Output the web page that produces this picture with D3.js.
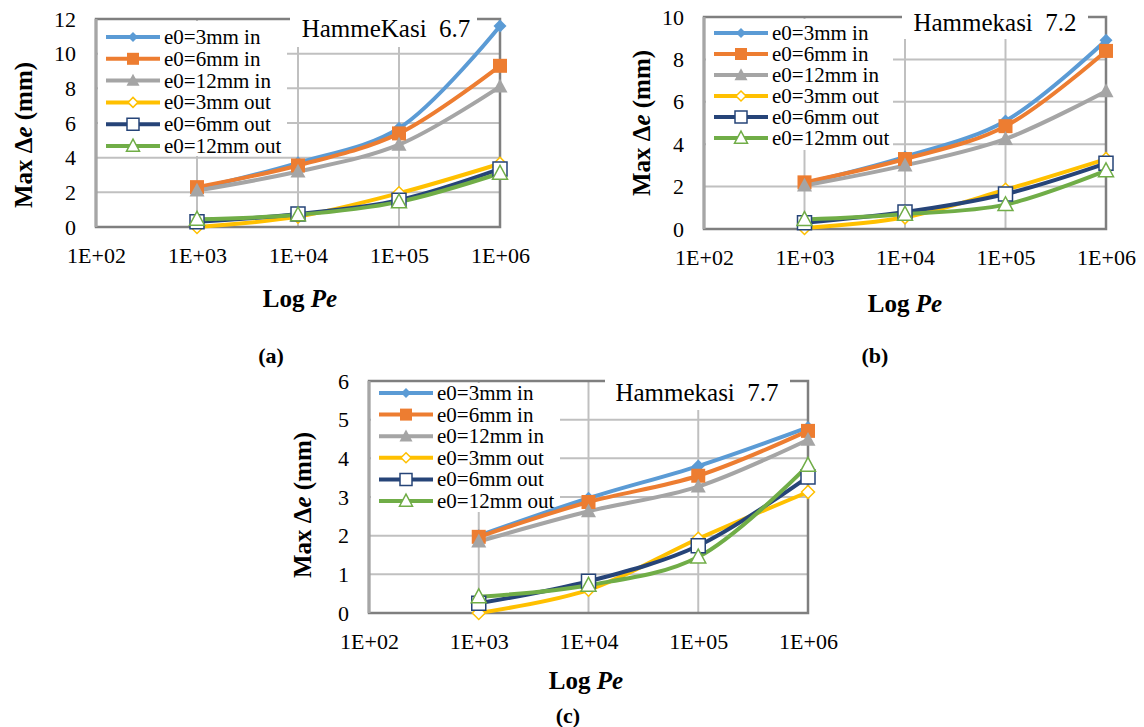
<!DOCTYPE html>
<html>
<head>
<meta charset="utf-8">
<script src="https://cdn.jsdelivr.net/npm/d3@7"></script>
<style>
  body { margin: 0; background: #fff; }
  svg, svg text { font-family: "Liberation Serif", "Tinos", "Times New Roman", "Nimbus Roman", "DejaVu Serif", serif !important; }
</style>
</head>
<body>
<svg width="1144" height="727"></svg>
<script>
// Peclet numbers (x) and axis ticks
var pe = [1e3, 1e4, 1e5, 1e6];
var peTicks = [1e2, 1e3, 1e4, 1e5, 1e6];

var names = ["e0=3mm in", "e0=6mm in", "e0=12mm in", "e0=3mm out", "e0=6mm out", "e0=12mm out"];
var colors = ["#5b9bd5", "#ed7d31", "#a5a5a5", "#ffc000", "#264478", "#70ad47"];
var shapes = ["diamond", "square", "triangle", "diamond", "square", "triangle"];
var hollow = [false, false, false, true, true, true];

// Max delta e (mm), one row per series
var hk67 = [
  [2.2, 3.7, 5.7, 11.6],
  [2.3, 3.55, 5.4, 9.3],
  [2.1, 3.2, 4.75, 8.1],
  [0.0, 0.6, 1.95, 3.65],
  [0.3, 0.75, 1.55, 3.35],
  [0.45, 0.7, 1.45, 3.1]
];
var hk72 = [
  [2.15, 3.4, 5.1, 8.9],
  [2.2, 3.3, 4.85, 8.4],
  [2.05, 3.0, 4.25, 6.5],
  [0.05, 0.55, 1.85, 3.3],
  [0.3, 0.8, 1.65, 3.1],
  [0.45, 0.7, 1.15, 2.75]
];
var hk77 = [
  [2.0, 2.97, 3.8, 4.8],
  [1.97, 2.87, 3.55, 4.71],
  [1.85, 2.63, 3.27, 4.48],
  [0.0, 0.6, 1.92, 3.13],
  [0.25, 0.82, 1.74, 3.52],
  [0.42, 0.72, 1.45, 3.82]
];

var ticks67 = [0, 2, 4, 6, 8, 10, 12];
var ticks72 = [0, 2, 4, 6, 8, 10];
var ticks77 = [0, 1, 2, 3, 4, 5, 6];

var panels = [
  { data: hk67, yTicks: ticks67, title: "HammeKasi\u00a0\u00a06.7", label: "(a)",
    left: 96, right: 500, top: 19, bottom: 227,
    legend: { x: 98, y: 21, w: 189, h: 135, row0: 37, dy: 21.8 },
    tbox: { x: 290, y: 8, w: 187, h: 39, cx: 386, cy: 28 },
    yt: [23, 135], xt: [300, 298], lab: [271, 355] },
  { data: hk72, yTicks: ticks72, title: "Hammekasi\u00a0\u00a07.2", label: "(b)",
    left: 704, right: 1106, top: 17, bottom: 229,
    legend: { x: 706, y: 19, w: 187, h: 131, row0: 33, dy: 21 },
    tbox: { x: 902, y: 5, w: 186, h: 34, cx: 995, cy: 22 },
    yt: [641, 123], xt: [905, 303], lab: [875, 355] },
  { data: hk77, yTicks: ticks77, title: "Hammekasi\u00a0\u00a07.7", label: "(c)",
    left: 369, right: 808, top: 381, bottom: 613,
    legend: { x: 371, y: 383, w: 189, h: 129, row0: 393, dy: 21.6 },
    tbox: { x: 605, y: 370, w: 185, h: 40, cx: 697, cy: 392 },
    yt: [302, 505], xt: [586, 680], lab: [568, 715] }
];

function marker(shape, r) {
  if (shape == "diamond") return "M0," + (-r) + "L" + r + ",0L0," + r + "L" + (-r) + ",0Z";
  if (shape == "square") return "M" + (-r) + "," + (-r) + "h" + 2 * r + "v" + 2 * r + "h" + (-2 * r) + "Z";
  return "M0," + (-r * 1.05) + "L" + r + "," + (r * 0.8) + "L" + (-r) + "," + (r * 0.8) + "Z";
}
var plotR = { diamond: 6.5, square: 7, triangle: 7.5 };
var legR = { diamond: 5, square: 6, triangle: 6.5 };

var svg = d3.select("svg");
var fmt = function(d) { return "1E+0" + Math.round(Math.log10(d)); };

panels.forEach(function(p) {
  var g = svg.append("g");
  var x = d3.scaleLog().domain([1e2, 1e6]).range([p.left, p.right]);
  var y = d3.scaleLinear().domain([0, d3.max(p.yTicks)]).range([p.bottom, p.top]);

  // gridlines
  g.append("g").selectAll("line").data(p.yTicks.slice(1)).join("line")
    .attr("x1", p.left).attr("x2", p.right)
    .attr("y1", function(d) { return y(d); }).attr("y2", function(d) { return y(d); })
    .attr("stroke", "#c0c0c0").attr("stroke-width", 2);
  g.append("g").selectAll("line").data(peTicks.slice(1)).join("line")
    .attr("x1", function(d) { return x(d); }).attr("x2", function(d) { return x(d); })
    .attr("y1", p.top).attr("y2", p.bottom)
    .attr("stroke", "#c0c0c0").attr("stroke-width", 2);

  // plot border
  g.append("rect").attr("x", p.left).attr("y", p.top)
    .attr("width", p.right - p.left).attr("height", p.bottom - p.top)
    .attr("fill", "none").attr("stroke", "#7f7f7f").attr("stroke-width", 2.5);
  g.append("line").attr("x1", p.left).attr("x2", p.left).attr("y1", p.top).attr("y2", p.bottom)
    .attr("stroke", "#a6a6a6").attr("stroke-width", 3);

  // axes
  var xa = g.append("g").attr("transform", "translate(0," + p.bottom + ")")
    .call(d3.axisBottom(x).tickValues(peTicks).tickFormat(fmt).tickSize(0).tickPadding(20));
  var ya = g.append("g").attr("transform", "translate(" + p.left + ",0)")
    .call(d3.axisLeft(y).tickValues(p.yTicks).tickFormat(d3.format("d")).tickSize(0).tickPadding(20));
  [xa, ya].forEach(function(a) {
    a.attr("font-family", null);
    a.select(".domain").remove();
    a.selectAll("text").attr("font-size", 22).attr("fill", "#000");
  });

  // legend
  var lg = p.legend;
  g.append("rect").attr("x", lg.x).attr("y", lg.y).attr("width", lg.w).attr("height", lg.h).attr("fill", "#fff");
  names.forEach(function(n, i) {
    var ry = lg.row0 + i * lg.dy;
    g.append("line").attr("x1", p.left + 10).attr("x2", p.left + 64).attr("y1", ry).attr("y2", ry)
      .attr("stroke", colors[i]).attr("stroke-width", 4);
    g.append("path").attr("d", marker(shapes[i], legR[shapes[i]]))
      .attr("transform", "translate(" + (p.left + 37) + "," + ry + ")")
      .attr("fill", hollow[i] ? "#fff" : colors[i])
      .attr("stroke", colors[i]).attr("stroke-width", hollow[i] ? 1.5 : 0);
    g.append("text").attr("x", p.left + 68).attr("y", ry).attr("dy", "0.33em")
      .attr("font-size", 21).text(n);
  });

  // title box
  var t = p.tbox;
  g.append("rect").attr("x", t.x).attr("y", t.y).attr("width", t.w).attr("height", t.h).attr("fill", "#fff");
  g.append("text").attr("x", t.cx).attr("y", t.cy).attr("dy", "0.35em").attr("text-anchor", "middle")
    .attr("font-size", 25).text(p.title);

  // series
  var line = d3.line()
    .x(function(d, i) { return x(pe[i]); })
    .y(function(d) { return y(d); })
    .curve(d3.curveCatmullRom);
  p.data.forEach(function(vals, i) {
    g.append("path").datum(vals).attr("d", line)
      .attr("fill", "none").attr("stroke", colors[i]).attr("stroke-width", 4)
      .attr("stroke-linejoin", "round");
  });
  p.data.forEach(function(vals, i) {
    g.append("g").selectAll("path").data(vals).join("path")
      .attr("d", marker(shapes[i], plotR[shapes[i]]))
      .attr("transform", function(d, j) { return "translate(" + x(pe[j]) + "," + y(d) + ")"; })
      .attr("fill", hollow[i] ? "#fff" : colors[i])
      .attr("stroke", colors[i]).attr("stroke-width", hollow[i] ? 1.5 : 0);
  });

  // axis titles
  var ytx = g.append("text").attr("transform", "translate(" + p.yt[0] + "," + p.yt[1] + ") rotate(-90)")
    .attr("text-anchor", "middle").attr("dy", "0.35em").attr("font-size", 25).attr("font-weight", "bold");
  ytx.append("tspan").text("Max \u0394");
  ytx.append("tspan").attr("font-style", "italic").text("e");
  ytx.append("tspan").text(" (mm)");

  var xtx = g.append("text").attr("x", p.xt[0]).attr("y", p.xt[1]).attr("dy", "0.35em")
    .attr("text-anchor", "middle").attr("font-size", 25).attr("font-weight", "bold");
  xtx.append("tspan").text("Log ");
  xtx.append("tspan").attr("font-style", "italic").text("Pe");

  g.append("text").attr("x", p.lab[0]).attr("y", p.lab[1]).attr("dy", "0.35em")
    .attr("text-anchor", "middle").attr("font-size", 22).attr("font-weight", "bold").text(p.label);
});
</script>
</body>
</html>
